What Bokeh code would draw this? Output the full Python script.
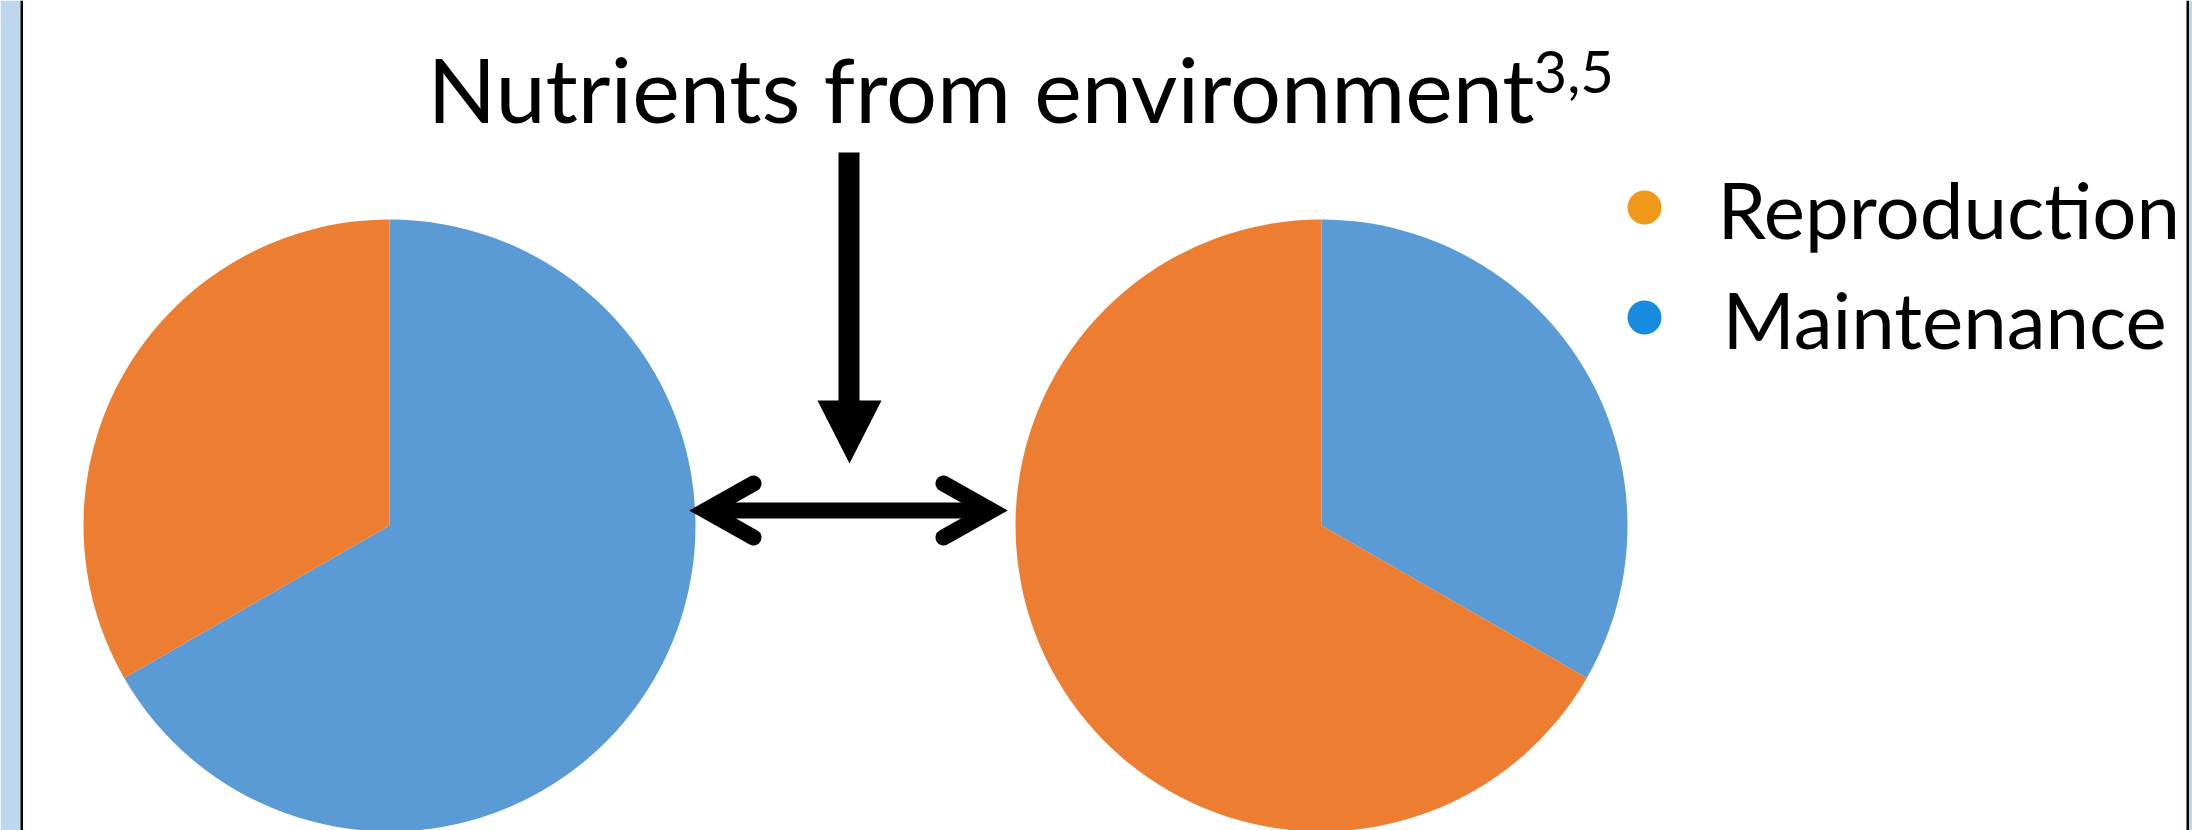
import numpy as np
from bokeh.plotting import figure
from bokeh.models import Range1d, ColumnDataSource
from bokeh.core.properties import value
from bokeh.embed import file_html
from bokeh.resources import INLINE

# ---- data ----
categories = ["Reproduction", "Maintenance"]
left_values = [33.3, 66.7]     # left pie (%)
right_values = [66.7, 33.3]    # right pie (%)
slice_colors = ["#ED7D31", "#5B9BD5"]
legend_colors = ["#F0981A", "#168BE0"]
title_text = "Nutrients from environment"
title_sup = "3,5"

W, H = 2192, 830
p = figure(width=W, height=H, x_range=Range1d(0, W), y_range=Range1d(0, H),
           output_backend="svg", toolbar_location=None, min_border=0,
           x_axis_type=None, y_axis_type=None, background_fill_color="white",
           border_fill_color="white")
p.grid.visible = False
p.outline_line_color = None

def Y(s):
    return H - s

# frame borders
p.quad(left=[0], right=[20], bottom=[0], top=[H], fill_color="#BDD7EE", line_color=None)
p.quad(left=[20], right=[22.5], bottom=[0], top=[H], fill_color="black", line_color=None)
p.quad(left=[2186], right=[2188.5], bottom=[0], top=[H], fill_color="black", line_color=None)
p.quad(left=[2188.5], right=[W], bottom=[0], top=[H], fill_color="#BDD7EE", line_color=None)

# pies: drawn clockwise from 12 o'clock, Maintenance first
def pie(cx, cy, r, vals):
    order = [1, 0]
    total = float(sum(vals))
    start = np.pi / 2
    xs, ys, st, en, col = [], [], [], [], []
    for i in order:
        span = vals[i] / total * 2 * np.pi
        xs.append(cx); ys.append(cy)
        st.append(start); en.append(start - span)
        col.append(slice_colors[i])
        start -= span
    src = ColumnDataSource(dict(x=xs, y=ys, s=st, e=en, c=col))
    p.wedge(x="x", y="y", radius=r, start_angle="s", end_angle="e", direction="clock",
            fill_color="c", line_color=None, source=src)

pie(389, Y(525), 306, left_values)
pie(1321, Y(525), 306, right_values)

# title
p.text(x=[427], y=[Y(120) + 33], text=[title_text], text_font=value("Lato"),
       text_font_size="90px", text_color="black", text_baseline="alphabetic", text_align="left")
p.text(x=[1533], y=[Y(90) + 19], text=[title_sup], text_font=value("Lato"),
       text_font_size="58px", text_color="black", text_baseline="alphabetic", text_align="left")

# vertical arrow
p.quad(left=[838], right=[859], top=[Y(152)], bottom=[Y(401)], fill_color="black", line_color=None)
p.patch(x=[817, 881, 849], y=[Y(400), Y(400), Y(463)], fill_color="black", line_color=None)

# double-headed arrow
p.line(x=[705, 991], y=[Y(510), Y(510)], line_width=16, line_color="black")
p.multi_line(xs=[[753, 705, 753], [943, 991, 943]],
             ys=[[Y(483), Y(510), Y(537)], [Y(483), Y(510), Y(537)]],
             line_width=16, line_color="black", line_join="miter", line_cap="round")

# legend
leg = ColumnDataSource(dict(x=[1644, 1644], y=[Y(207), Y(317)], c=legend_colors,
                            tx=[1717, 1722], ty=[Y(240) + 32, Y(350) + 32], t=categories))
p.scatter(x="x", y="y", size=34, marker="circle", fill_color="c", line_color=None, source=leg)
p.text(x="tx", y="ty", text="t", text_font=value("Lato"), text_font_size="78px",
       text_color="black", text_baseline="alphabetic", text_align="left", source=leg)

open("out.html", "w").write(file_html(p, INLINE))
